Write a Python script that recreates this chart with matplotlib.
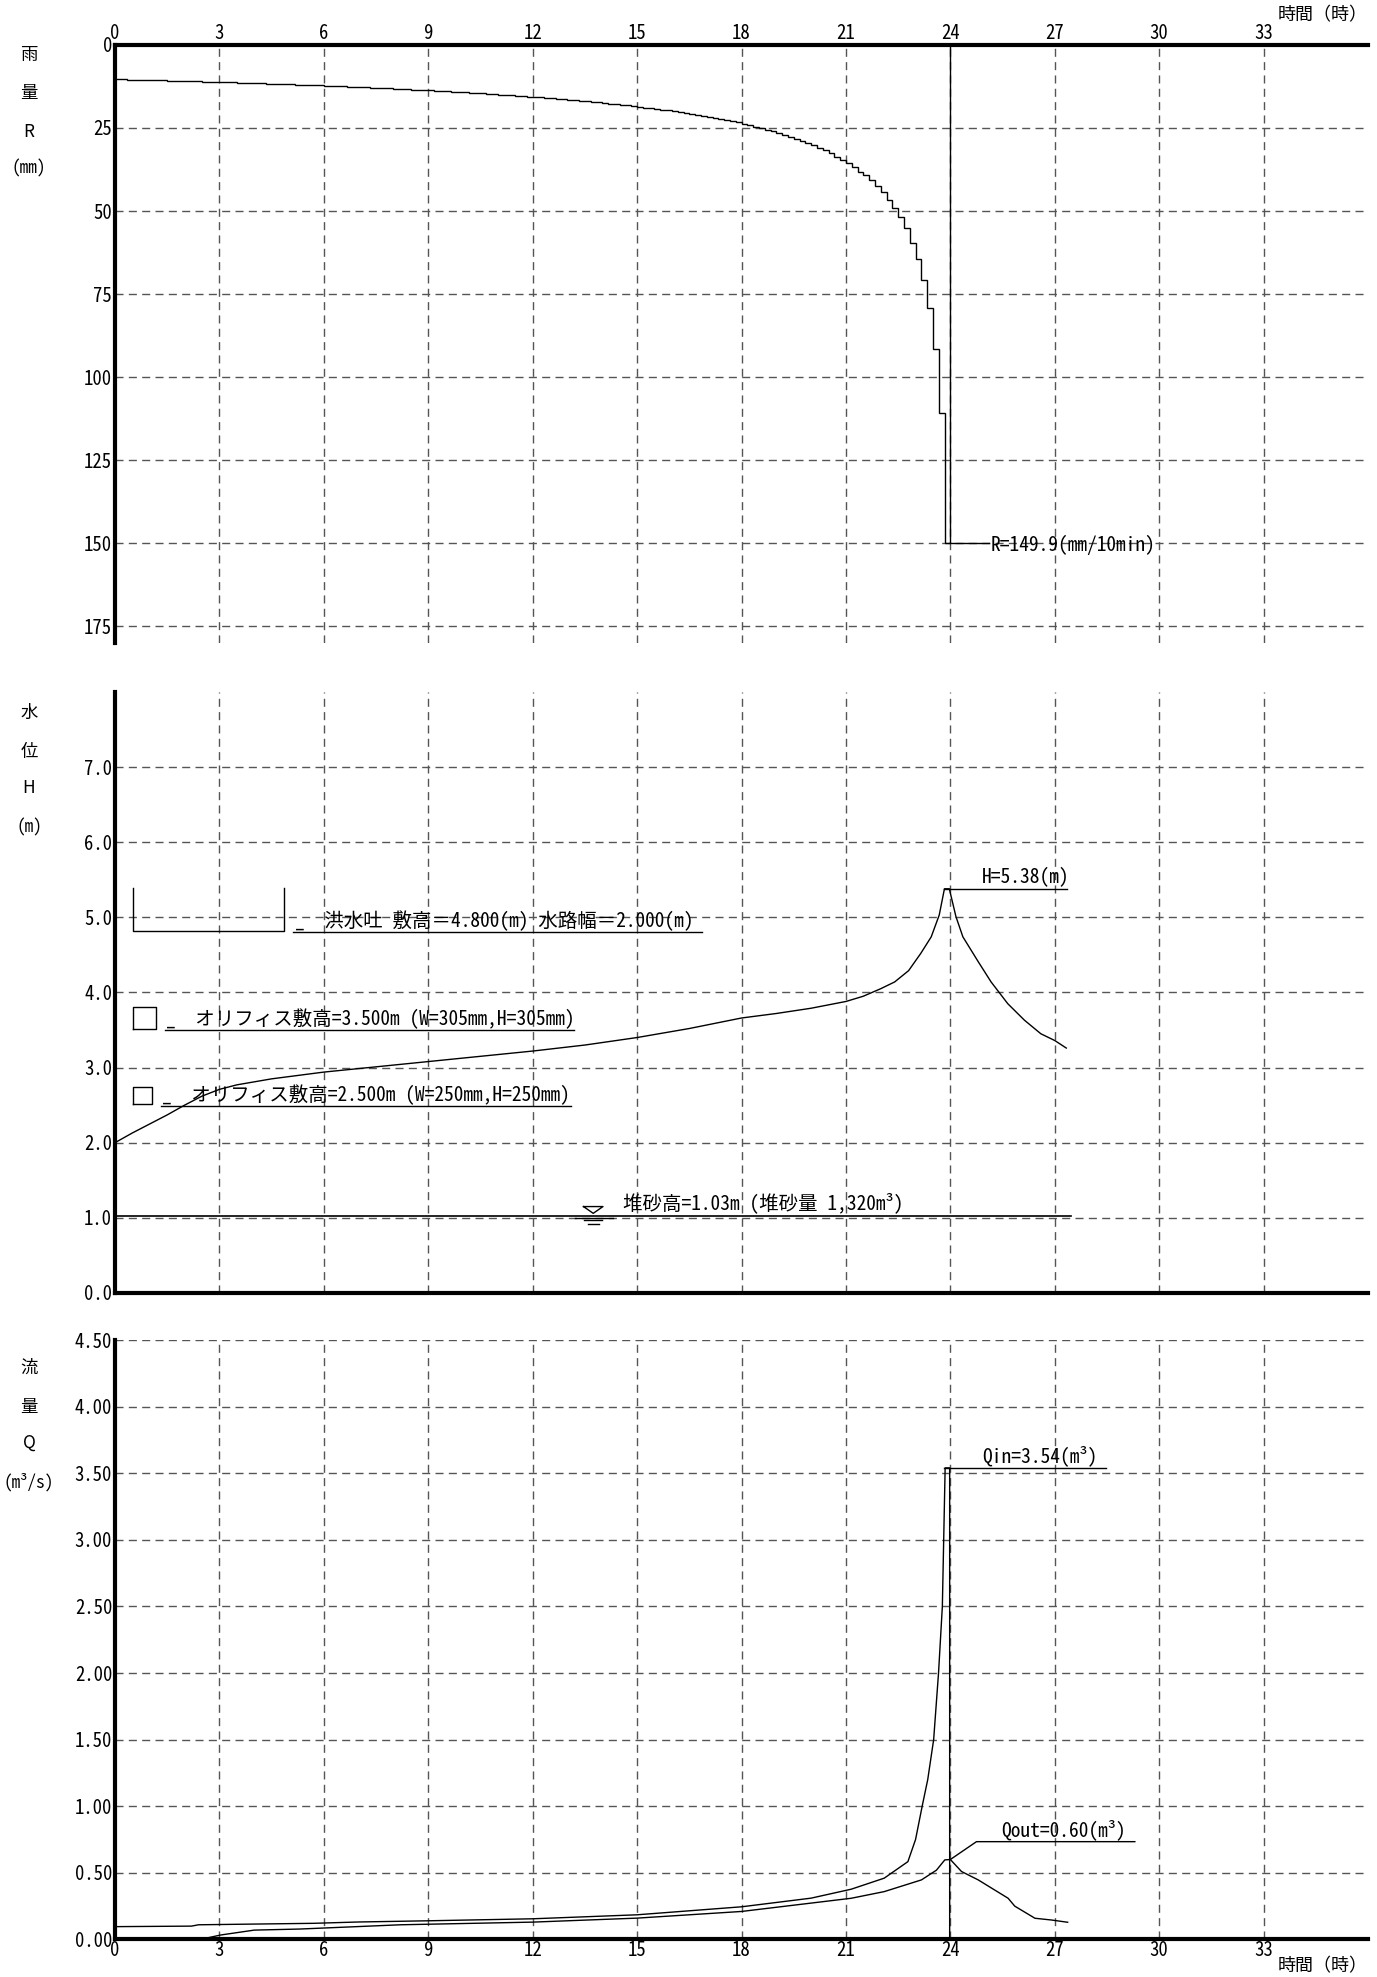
import numpy as np
import matplotlib.pyplot as plt

plt.rcParams['font.family'] = ['Noto Sans Mono CJK JP', 'Noto Sans CJK JP', 'DejaVu Sans']

# rainfall per 10-minute block from 0 h to 24 h (mm/10min)
rain = [
    10.4, 10.4, 10.5, 10.5, 10.5, 10.6,
    10.6, 10.7, 10.7, 10.8, 10.8, 10.9,
    10.9, 11.0, 11.0, 11.1, 11.1, 11.2,
    11.2, 11.3, 11.3, 11.4, 11.4, 11.5,
    11.6, 11.6, 11.7, 11.7, 11.8, 11.9,
    11.9, 12.0, 12.1, 12.1, 12.2, 12.2,
    12.3, 12.4, 12.5, 12.5, 12.6, 12.7,
    12.8, 12.8, 12.9, 13.0, 13.1, 13.1,
    13.2, 13.3, 13.4, 13.5, 13.6, 13.6,
    13.7, 13.8, 13.9, 14.0, 14.1, 14.2,
    14.3, 14.4, 14.5, 14.6, 14.7, 14.8,
    15.0, 15.1, 15.2, 15.3, 15.4, 15.6,
    15.7, 15.8, 16.0, 16.1, 16.2, 16.4,
    16.5, 16.7, 16.9, 17.0, 17.2, 17.3,
    17.5, 17.7, 17.9, 18.1, 18.2, 18.4,
    18.6, 18.9, 19.1, 19.3, 19.5, 19.7,
    20.0, 20.3, 20.5, 20.8, 21.1, 21.3,
    21.7, 22.0, 22.3, 22.7, 23.0, 23.3,
    23.7, 24.2, 24.6, 25.1, 25.5, 25.9,
    26.5, 27.1, 27.7, 28.3, 28.9, 29.5,
    30.1, 30.9, 31.7, 32.6, 33.6, 34.6,
    35.5, 36.7, 38.2, 39.2, 40.7, 42.5,
    44.2, 46.7, 49.2, 51.7, 55.2, 59.5,
    64.5, 70.8, 79.3, 91.4, 110.9, 149.9,
]
rain_block_h = 1 / 6

# water level (m)
h_time = [0, 0.5, 1.0, 1.5, 2.0, 2.5, 3.0, 3.5, 4.5, 6, 7.5, 9, 10.5, 12, 13.5,
          15, 16.5, 18, 19, 20, 21, 21.5, 22.0, 22.4, 22.8, 23.15, 23.45,
          23.68, 23.83, 23.97, 24.16, 24.36, 24.8, 25.17, 25.65, 26.13, 26.6,
          27.0, 27.33]
h_level = [2.0, 2.13, 2.25, 2.37, 2.5, 2.62, 2.71, 2.77, 2.85, 2.94, 3.01,
           3.08, 3.15, 3.22, 3.30, 3.40, 3.52, 3.66, 3.72, 3.79, 3.88, 3.95,
           4.05, 4.14, 4.29, 4.52, 4.74, 5.03, 5.38, 5.38, 5.01, 4.74, 4.41,
           4.14, 3.85, 3.63, 3.45, 3.36, 3.26]

# inflow / outflow (m3/s)
qin_time = [0, 2.2, 2.4, 4.2, 5.7, 7.0, 9, 12, 15, 18, 20, 21.15, 22.1,
            22.78, 23.0, 23.19, 23.35, 23.52, 23.66, 23.77, 23.85, 23.98,
            23.98]
qin_flow = [0.096, 0.100, 0.110, 0.116, 0.121, 0.131, 0.14, 0.155, 0.185,
            0.245, 0.31, 0.377, 0.46, 0.584, 0.75, 1.00, 1.20, 1.50, 2.00,
            2.50, 3.54, 3.54, 0]
qout_time = [0, 2.45, 3.03, 4.0, 5.3, 7.3, 8.2, 12, 15, 18, 21.15, 22.1,
             23.17, 23.6, 23.84, 24.0, 24.32, 24.8, 25.66, 25.85, 26.43,
             26.9, 27.37]
qout_flow = [0, 0, 0.033, 0.07, 0.078, 0.10, 0.11, 0.13, 0.16, 0.21, 0.309,
             0.359, 0.447, 0.52, 0.597, 0.60, 0.51, 0.447, 0.309, 0.25, 0.159,
             0.146, 0.129]

hour_ticks = list(range(0, 34, 3))
rain_ticks = list(range(0, 176, 25))
level_ticks = [0, 1, 2, 3, 4, 5, 6, 7]
flow_ticks = [0, 0.5, 1.0, 1.5, 2.0, 2.5, 3.0, 3.5, 4.0, 4.5]

TICK_FS = 13.5
NOTE_FS = 14
GRID = dict(color='#555555', lw=1.0, ls=(0, (5.8, 3.8)))


def frame(ax, shown):
    for side in ['top', 'bottom', 'left', 'right']:
        ax.spines[side].set_visible(side in shown)
        ax.spines[side].set_linewidth(3)
    ax.set_xlim(0, 36)
    ax.set_xticks(hour_ticks)
    ax.grid(True, **GRID)
    ax.set_axisbelow(True)
    ax.tick_params(length=0, pad=2, labelsize=TICK_FS)


fig = plt.figure(figsize=(13.77, 19.77), dpi=100)

# ---- rainfall ----
ax1 = fig.add_axes([0.0835, 0.6748, 0.91, 0.3025])
frame(ax1, ['top', 'left'])
edges = np.arange(len(rain) + 1) * rain_block_h
ax1.stairs(rain, edges, baseline=0, color='black', lw=1.0)
ax1.set_ylim(180, 0)
ax1.set_yticks(rain_ticks)
ax1.xaxis.tick_top()
ax1.tick_params(axis='x', pad=1)
ax1.plot([24.0, 25.1], [rain[-1], rain[-1]], color='black', lw=1.0)
ax1.text(25.15, rain[-1] + 0.5, f'R={rain[-1]:.1f}(mm/10min)',
         fontsize=NOTE_FS, va='center', ha='left')

# ---- water level ----
ax2 = fig.add_axes([0.0835, 0.346, 0.91, 0.304])
frame(ax2, ['bottom', 'left'])
ax2.plot(h_time, h_level, color='black', lw=1.0)
ax2.set_ylim(0, 8)
ax2.set_yticks(level_ticks)
ax2.set_yticklabels([f'{v:.1f}' for v in level_ticks])
ax2.tick_params(axis='x', labelbottom=False)

hmax = max(h_level)
tpk = h_time[h_level.index(hmax)]
ax2.plot([tpk, 27.36], [hmax, hmax], color='black', lw=1.0)
ax2.text(24.9, hmax + 0.02, f'H={hmax:.2f}(m)', fontsize=NOTE_FS,
         va='bottom', ha='left')

# spillway
ax2.plot([0.52, 0.52, 4.85, 4.85], [5.39, 4.82, 4.82, 5.39], color='black', lw=1.0)
ax2.plot([5.11, 16.87], [4.80, 4.80], color='black', lw=1.0)
ax2.text(5.17, 4.81, '_  洪水吐 敷高＝4.800(m) 水路幅＝2.000(m)',
         fontsize=NOTE_FS, va='bottom', ha='left')

# orifices
for (b0, b1, lo, hi, u0, u1, tx, y, label) in [
        (0.52, 1.17, 3.51, 3.81, 1.45, 13.19, 1.47, 3.50,
         '_  オリフィス敷高=3.500m (W=305mm,H=305mm)'),
        (0.52, 1.05, 2.51, 2.74, 1.33, 13.10, 1.35, 2.49,
         '_  オリフィス敷高=2.500m (W=250mm,H=250mm)')]:
    ax2.plot([b0, b1, b1, b0, b0], [lo, lo, hi, hi, lo], color='black', lw=1.0)
    ax2.plot([u0, u1], [y, y], color='black', lw=1.0)
    ax2.text(tx, y + 0.01, label, fontsize=NOTE_FS, va='bottom', ha='left')

# sediment level
ax2.plot([0, 27.46], [1.03, 1.03], color='black', lw=1.2)
ax2.plot([13.46, 14.02, 13.74, 13.46], [1.15, 1.15, 1.06, 1.15], color='black', lw=1.0)
ax2.plot([13.23, 14.31], [1.00, 1.00], color='black', lw=1.0)
ax2.plot([13.48, 14.00], [0.965, 0.965], color='black', lw=1.0)
ax2.plot([13.58, 13.90], [0.92, 0.92], color='black', lw=1.0)
ax2.text(14.6, 1.06, '堆砂高=1.03m (堆砂量 1,320m³)', fontsize=NOTE_FS,
         va='bottom', ha='left')

# ---- discharge ----
ax3 = fig.add_axes([0.0835, 0.019, 0.91, 0.3032])
frame(ax3, ['bottom', 'left'])
ax3.plot(qin_time, qin_flow, color='black', lw=1.0)
ax3.plot(qout_time, qout_flow, color='black', lw=1.0)
ax3.set_ylim(0, 4.5)
ax3.set_yticks(flow_ticks)
ax3.set_yticklabels([f'{v:.2f}' for v in flow_ticks])
ax3.tick_params(axis='x', pad=1)

qin_max = max(qin_flow)
ax3.plot([23.83, 28.48], [qin_max, qin_max], color='black', lw=1.0)
ax3.text(24.91, qin_max + 0.015, f'Qin={qin_max:.2f}(m³)', fontsize=NOTE_FS,
         va='bottom', ha='left')
qout_max = max(qout_flow)
ax3.plot([24.0, 24.75, 29.3], [qout_max, 0.734, 0.734], color='black', lw=1.0)
ax3.text(25.47, 0.745, f'Qout={qout_max:.2f}(m³)', fontsize=NOTE_FS,
         va='bottom', ha='left')

# ---- stacked axis titles ----
sans = ['Noto Sans CJK JP', 'DejaVu Sans']
for chars, ys in [(['雨', '量', 'R', '(mm)'], [55, 93, 132, 168]),
                  (['水', '位', 'H', '(m)'], [713, 752, 788, 827]),
                  (['流', '量', 'Q', '(m³/s)'], [1368, 1407, 1443, 1482])]:
    for c, y in zip(chars, ys):
        fam = sans if c in ('R', 'H', 'Q') else None
        fig.text(29 / 1377, 1 - y / 1977, c, fontsize=12.5, ha='center',
                 va='center', family=fam)

fig.text(1368 / 1377, 1 - 15 / 1977, '時間（時）', fontsize=13, ha='right', va='center')
fig.text(1368 / 1377, 1 - 1966 / 1977, '時間（時）', fontsize=13, ha='right', va='center')

fig.savefig('out.png', dpi=100)
plt.close()
